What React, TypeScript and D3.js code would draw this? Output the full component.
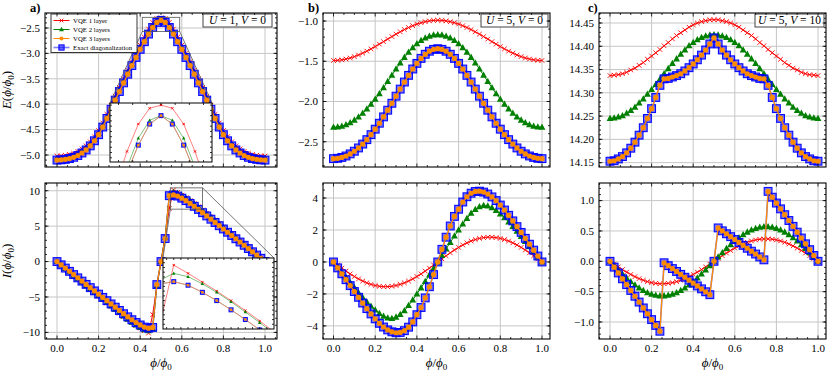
import React from 'react';
import * as d3 from 'd3';

// flux grid (51 points)
const PHI = [0,0.02,0.04,0.06,0.08,0.1,0.12,0.14,0.16,0.18,0.2,0.22,0.24,0.26,0.28,0.3,0.32,0.34,0.36,0.38,0.4,0.42,0.44,0.46,0.48,0.5,0.52,0.54,0.56,0.58,0.6,0.62,0.64,0.66,0.68,0.7,0.72,0.74,0.76,0.78,0.8,0.82,0.84,0.86,0.88,0.9,0.92,0.94,0.96,0.98,1];

// a) U=1, V=0
const aE_vqe1 = [-5.02,-5.015,-5.005,-4.99,-4.965,-4.93,-4.88,-4.82,-4.74,-4.64,-4.52,-4.37,-4.2,-4.02,-3.84,-3.67,-3.5,-3.33,-3.16,-3,-2.84,-2.68,-2.52,-2.39,-2.315,-2.3,-2.315,-2.39,-2.52,-2.68,-2.84,-3,-3.16,-3.33,-3.5,-3.67,-3.84,-4.02,-4.2,-4.37,-4.52,-4.64,-4.74,-4.82,-4.88,-4.93,-4.965,-4.99,-5.005,-5.015,-5.02];
const aE_vqe2 = [-5.075,-5.07,-5.06,-5.045,-5.02,-4.985,-4.935,-4.875,-4.795,-4.695,-4.575,-4.425,-4.255,-4.075,-3.895,-3.725,-3.555,-3.385,-3.215,-3.055,-2.895,-2.745,-2.595,-2.457,-2.372,-2.35,-2.372,-2.457,-2.595,-2.745,-2.895,-3.055,-3.215,-3.385,-3.555,-3.725,-3.895,-4.075,-4.255,-4.425,-4.575,-4.695,-4.795,-4.875,-4.935,-4.985,-5.02,-5.045,-5.06,-5.07,-5.075];
const aE_exact = [-5.1,-5.095,-5.085,-5.07,-5.045,-5.01,-4.96,-4.9,-4.82,-4.72,-4.6,-4.45,-4.28,-4.1,-3.92,-3.75,-3.58,-3.41,-3.24,-3.08,-2.92,-2.77,-2.62,-2.49,-2.39,-2.35,-2.39,-2.49,-2.62,-2.77,-2.92,-3.08,-3.24,-3.41,-3.58,-3.75,-3.92,-4.1,-4.28,-4.45,-4.6,-4.72,-4.82,-4.9,-4.96,-5.01,-5.045,-5.07,-5.085,-5.095,-5.1];
const aE_vqe3 = aE_exact;
const aI_vqe1 = [0,-0.48,-0.96,-1.45,-1.93,-2.42,-2.9,-3.39,-3.88,-4.37,-4.86,-5.35,-5.84,-6.32,-6.8,-7.28,-7.74,-8.18,-8.6,-9,-9.38,-9.75,-10.1,-7.5,-3.5,0,3.5,7.5,10.1,9.75,9.38,9,8.6,8.18,7.74,7.28,6.8,6.32,5.84,5.35,4.86,4.37,3.88,3.39,2.9,2.42,1.93,1.45,0.96,0.48,0];
const aI_vqe2 = [0,-0.48,-0.96,-1.44,-1.92,-2.4,-2.88,-3.36,-3.84,-4.32,-4.8,-5.28,-5.76,-6.24,-6.72,-7.2,-7.67,-8.12,-8.55,-8.95,-9.31,-9.61,-9.75,-9.45,-3.4,0,3.4,9.45,9.75,9.61,9.31,8.95,8.55,8.12,7.67,7.2,6.72,6.24,5.76,5.28,4.8,4.32,3.84,3.36,2.88,2.4,1.92,1.44,0.96,0.48,0];
const aI_exact = [0,-0.46,-0.92,-1.38,-1.84,-2.3,-2.76,-3.22,-3.68,-4.14,-4.6,-5.06,-5.52,-5.98,-6.44,-6.9,-7.36,-7.8,-8.21,-8.6,-8.95,-9.25,-9.4,-9.3,-3.25,0,3.25,9.3,9.4,9.25,8.95,8.6,8.21,7.8,7.36,6.9,6.44,5.98,5.52,5.06,4.6,4.14,3.68,3.22,2.76,2.3,1.84,1.38,0.92,0.46,0];
const aI_vqe3 = aI_exact;

// b) U=5, V=0
const bE_vqe1 = [-1.49,-1.488,-1.482,-1.472,-1.459,-1.442,-1.422,-1.399,-1.374,-1.346,-1.317,-1.287,-1.256,-1.224,-1.193,-1.163,-1.134,-1.106,-1.081,-1.058,-1.038,-1.021,-1.008,-0.998,-0.992,-0.99,-0.992,-0.998,-1.008,-1.021,-1.038,-1.058,-1.081,-1.106,-1.134,-1.163,-1.193,-1.224,-1.256,-1.287,-1.317,-1.346,-1.374,-1.399,-1.422,-1.442,-1.459,-1.472,-1.482,-1.488,-1.49];
const bE_vqe2 = [-2.32,-2.316,-2.306,-2.288,-2.263,-2.231,-2.192,-2.146,-2.094,-2.035,-1.971,-1.902,-1.828,-1.752,-1.674,-1.596,-1.522,-1.451,-1.387,-1.331,-1.282,-1.242,-1.21,-1.188,-1.174,-1.17,-1.174,-1.188,-1.21,-1.242,-1.282,-1.331,-1.387,-1.451,-1.522,-1.596,-1.674,-1.752,-1.828,-1.902,-1.971,-2.035,-2.094,-2.146,-2.192,-2.231,-2.263,-2.288,-2.306,-2.316,-2.32];
const bE_exact = [-2.71,-2.706,-2.695,-2.677,-2.651,-2.618,-2.577,-2.529,-2.474,-2.412,-2.344,-2.27,-2.191,-2.108,-2.022,-1.934,-1.846,-1.758,-1.675,-1.596,-1.526,-1.464,-1.413,-1.375,-1.352,-1.344,-1.352,-1.375,-1.413,-1.464,-1.526,-1.596,-1.675,-1.758,-1.846,-1.934,-2.022,-2.108,-2.191,-2.27,-2.344,-2.412,-2.474,-2.529,-2.577,-2.618,-2.651,-2.677,-2.695,-2.706,-2.71];
const bE_vqe3 = bE_exact;
const bI_vqe1 = [0,-0.194,-0.385,-0.571,-0.747,-0.911,-1.061,-1.194,-1.309,-1.402,-1.474,-1.523,-1.547,-1.547,-1.523,-1.474,-1.402,-1.309,-1.194,-1.061,-0.911,-0.747,-0.571,-0.385,-0.194,0,0.194,0.385,0.571,0.747,0.911,1.061,1.194,1.309,1.402,1.474,1.523,1.547,1.547,1.523,1.474,1.402,1.309,1.194,1.061,0.911,0.747,0.571,0.385,0.194,0];
const bI_vqe2 = [0,-0.32,-0.64,-0.96,-1.28,-1.6,-1.92,-2.22,-2.5,-2.77,-3.01,-3.22,-3.39,-3.5,-3.54,-3.45,-3.28,-3.05,-2.72,-2.38,-2,-1.62,-1.22,-0.82,-0.41,0,0.41,0.82,1.22,1.62,2,2.38,2.72,3.05,3.28,3.45,3.54,3.5,3.39,3.22,3.01,2.77,2.5,2.22,1.92,1.6,1.28,0.96,0.64,0.32,0];
const bI_exact = [0,-0.37,-0.74,-1.11,-1.48,-1.85,-2.21,-2.57,-2.92,-3.25,-3.56,-3.84,-4.07,-4.25,-4.37,-4.43,-4.41,-4.3,-4.08,-3.75,-3.3,-2.85,-2.25,-1.55,-0.79,0,0.79,1.55,2.25,2.85,3.3,3.75,4.08,4.3,4.41,4.43,4.37,4.25,4.07,3.84,3.56,3.25,2.92,2.57,2.21,1.85,1.48,1.11,0.74,0.37,0];
const bI_vqe3 = bI_exact;

// c) U=5, V=10
const cE_vqe1 = [14.337,14.338,14.339,14.341,14.344,14.349,14.353,14.359,14.365,14.372,14.379,14.386,14.393,14.401,14.408,14.416,14.423,14.429,14.435,14.441,14.446,14.45,14.453,14.455,14.457,14.457,14.457,14.455,14.453,14.45,14.446,14.441,14.435,14.429,14.423,14.416,14.408,14.401,14.393,14.386,14.379,14.372,14.365,14.359,14.353,14.349,14.344,14.341,14.339,14.338,14.337];
const cE_vqe2 = [14.245,14.246,14.248,14.251,14.256,14.262,14.269,14.278,14.287,14.297,14.307,14.318,14.329,14.341,14.352,14.363,14.373,14.383,14.392,14.401,14.408,14.414,14.419,14.422,14.424,14.425,14.424,14.422,14.419,14.414,14.408,14.401,14.392,14.383,14.373,14.363,14.352,14.341,14.329,14.318,14.307,14.297,14.287,14.278,14.269,14.262,14.256,14.251,14.248,14.246,14.245];
const cE_exact = [14.153,14.154,14.158,14.163,14.171,14.181,14.194,14.209,14.225,14.245,14.266,14.29,14.316,14.33,14.331,14.334,14.337,14.341,14.347,14.354,14.362,14.371,14.381,14.392,14.405,14.418,14.405,14.392,14.381,14.371,14.362,14.354,14.347,14.341,14.337,14.334,14.331,14.33,14.316,14.29,14.266,14.245,14.225,14.209,14.194,14.181,14.171,14.163,14.158,14.154,14.153];
const cE_vqe3 = cE_exact;
const cI_vqe1 = [0,-0.046,-0.092,-0.136,-0.178,-0.217,-0.253,-0.285,-0.312,-0.335,-0.352,-0.363,-0.369,-0.369,-0.363,-0.352,-0.335,-0.312,-0.285,-0.253,-0.217,-0.178,-0.136,-0.092,-0.046,0,0.046,0.092,0.136,0.178,0.217,0.253,0.285,0.312,0.335,0.352,0.363,0.369,0.369,0.363,0.352,0.335,0.312,0.285,0.253,0.217,0.178,0.136,0.092,0.046,0];
const cI_vqe2 = [0,-0.071,-0.142,-0.21,-0.275,-0.335,-0.39,-0.439,-0.481,-0.516,-0.542,-0.56,-0.569,-0.569,-0.56,-0.542,-0.516,-0.481,-0.439,-0.39,-0.335,-0.275,-0.21,-0.142,-0.071,0,0.071,0.142,0.21,0.275,0.335,0.39,0.439,0.481,0.516,0.542,0.56,0.569,0.569,0.56,0.542,0.516,0.481,0.439,0.39,0.335,0.275,0.21,0.142,0.071,0];
const cI_exact = [0,-0.096,-0.192,-0.288,-0.384,-0.48,-0.576,-0.672,-0.768,-0.864,-0.96,-1.056,-1.152,-0.024,-0.072,-0.12,-0.167,-0.215,-0.263,-0.311,-0.359,-0.406,-0.454,-0.502,-0.55,0,0.55,0.502,0.454,0.406,0.359,0.311,0.263,0.215,0.167,0.12,0.072,0.024,1.152,1.056,0.96,0.864,0.768,0.672,0.576,0.48,0.384,0.288,0.192,0.096,0];
const cI_vqe3 = cI_exact;

// ticks
const X_TICKS = [0, 0.2, 0.4, 0.6, 0.8, 1.0];
const aE_TICKS = [-5.0, -4.5, -4.0, -3.5, -3.0, -2.5];
const aI_TICKS = [-10, -5, 0, 5, 10];
const bE_TICKS = [-2.5, -2.0, -1.5, -1.0];
const bI_TICKS = [-4, -2, 0, 2, 4];
const cE_TICKS = [14.15, 14.2, 14.25, 14.3, 14.35, 14.4, 14.45];
const cI_TICKS = [-1.0, -0.5, 0.0, 0.5, 1.0];

const LEGEND = ['VQE 1 layer', 'VQE 2 layers', 'VQE 3 layers', 'Exact diagonalization'];

const FONT = '"Liberation Serif", "DejaVu Serif", serif';

const STYLES = {
  vqe1: { color: '#ff0000', marker: 'x', r: 2.3, lw: 1 },
  vqe2: { color: '#008000', marker: '^', r: 3.4, lw: 1 },
  exact: { color: '#0000ff', marker: 's', r: 3.9, lw: 1.6 },
  vqe3: { color: '#ff8c00', marker: 'o', r: 2.6, lw: 1.3 },
};

function Marker({ kind, x, y, r, color }) {
  if (kind === 'o') return <circle cx={x} cy={y} r={r} fill={color} />;
  if (kind === 'x')
    return <path d={`M${x - r},${y - r}L${x + r},${y + r}M${x - r},${y + r}L${x + r},${y - r}`} stroke={color} strokeWidth={0.9} fill="none" />;
  if (kind === '^')
    return <path d={`M${x},${y - r * 1.1}L${x + r},${y + r * 0.75}L${x - r},${y + r * 0.75}Z`} fill={color} />;
  return (
    <rect x={x - r} y={y - r} width={2 * r} height={2 * r} fill={color} fillOpacity={0.55}
      stroke={color} strokeOpacity={0.95} strokeWidth={1.1} />
  );
}

function Series({ ys, sx, sy, st, k = 1 }) {
  const line = d3.line<number>().x((_, i) => sx(PHI[i])).y((d) => sy(d));
  const isExact = st.marker === 's';
  return (
    <g>
      <path d={line(ys) || ''} fill="none" stroke={st.color} strokeWidth={st.lw * k}
        strokeOpacity={isExact ? 0.5 : 1} />
      {ys.map((v, i) => (
        <Marker key={i} kind={st.marker} x={sx(PHI[i])} y={sy(v)} r={st.r * k} color={st.color} />
      ))}
    </g>
  );
}

function Curves({ data, sx, sy, k = 1 }) {
  return (
    <g>
      <Series ys={data[0]} sx={sx} sy={sy} st={STYLES.vqe1} k={k} />
      <Series ys={data[1]} sx={sx} sy={sy} st={STYLES.vqe2} k={k} />
      <Series ys={data[3]} sx={sx} sy={sy} st={STYLES.exact} k={k} />
      <Series ys={data[2]} sx={sx} sy={sy} st={STYLES.vqe3} k={k} />
    </g>
  );
}

function stepRange(lo, hi, step) {
  const out = [];
  const start = Math.ceil(lo / step - 1e-9);
  for (let i = start; i * step <= hi + 1e-9; i++) out.push(+(i * step).toFixed(6));
  return out;
}

function Ticks({ L, R, T, B, sx, sy, xMaj, xMin, yMaj, yMin, maj = 3.5, mnr = 2 }) {
  const segs = [];
  xMaj.forEach((v) => { const x = sx(v); segs.push([x, B, x, B - maj], [x, T, x, T + maj]); });
  xMin.forEach((v) => { const x = sx(v); if (x > L && x < R) segs.push([x, B, x, B - mnr], [x, T, x, T + mnr]); });
  yMaj.forEach((v) => { const y = sy(v); segs.push([L, y, L + maj, y], [R, y, R - maj, y]); });
  yMin.forEach((v) => { const y = sy(v); if (y > T && y < B) segs.push([L, y, L + mnr, y], [R, y, R - mnr, y]); });
  return (
    <g stroke="#000" strokeWidth={0.8}>
      {segs.map((s, i) => <line key={i} x1={s[0]} y1={s[1]} x2={s[2]} y2={s[3]} />)}
    </g>
  );
}

function Panel({ id, L, R, T, B, x0, x1, yDom, yTicks, yMinorStep, yFmt, xLabels, data, children = null }) {
  const sx = d3.scaleLinear().domain([0, 1]).range([x0, x1]);
  const sy = d3.scaleLinear().domain(yDom).range([B, T]);
  const xMin = stepRange(-0.1, 1.1, 0.05).filter((v) => !X_TICKS.some((t) => Math.abs(t - v) < 1e-6));
  const yMin = stepRange(yDom[0], yDom[1], yMinorStep);
  const fmt = d3.format(yFmt);
  return (
    <g>
      <defs>
        <clipPath id={`clip-${id}`}><rect x={L} y={T} width={R - L} height={B - T} /></clipPath>
      </defs>
      <rect x={L} y={T} width={R - L} height={B - T} fill="#fff" />
      <g stroke="#c6c6c6" strokeWidth={1}>
        {X_TICKS.map((v) => <line key={v} x1={sx(v)} x2={sx(v)} y1={T} y2={B} />)}
        {yTicks.map((v) => <line key={v} x1={L} x2={R} y1={sy(v)} y2={sy(v)} />)}
      </g>
      <g clipPath={`url(#clip-${id})`}>
        <Curves data={data} sx={sx} sy={sy} />
      </g>
      {children && children(sx, sy)}
      <Ticks L={L} R={R} T={T} B={B} sx={sx} sy={sy} xMaj={X_TICKS} xMin={xMin} yMaj={yTicks} yMin={yMin} />
      <rect x={L} y={T} width={R - L} height={B - T} fill="none" stroke="#000" strokeWidth={1.1} />
      <g fontFamily={FONT} fontSize={11} fill="#000">
        {yTicks.map((v) => (
          <text key={v} x={L - 5} y={sy(v) + 3.8} textAnchor="end">{fmt(v)}</text>
        ))}
        {xLabels && X_TICKS.map((v) => (
          <text key={v} x={sx(v)} y={B + 13} textAnchor="middle">{d3.format('.1f')(v)}</text>
        ))}
      </g>
      {xLabels && (
        <text x={(L + R) / 2} y={B + 28} textAnchor="middle" fontFamily={FONT} fontSize={13}>
          <tspan fontStyle="italic">ϕ</tspan>/<tspan fontStyle="italic">ϕ</tspan>
          <tspan fontSize={9} dy={3}>0</tspan>
        </text>
      )}
    </g>
  );
}

function Inset({ id, box, xDom, yDom, data, xStep, yStep }) {
  const [x, y, w, h] = box;
  const sx = d3.scaleLinear().domain(xDom).range([x, x + w]);
  const sy = d3.scaleLinear().domain(yDom).range([y + h, y]);
  const xs = stepRange(xDom[0], xDom[1], xStep);
  const ys = stepRange(yDom[0], yDom[1], yStep);
  return (
    <g>
      <defs>
        <clipPath id={`clip-${id}`}><rect x={x} y={y} width={w} height={h} /></clipPath>
      </defs>
      <rect x={x} y={y} width={w} height={h} fill="#fff" />
      <g clipPath={`url(#clip-${id})`}>
        <Curves data={data} sx={sx} sy={sy} k={0.5} />
      </g>
      <Ticks L={x} R={x + w} T={y} B={y + h} sx={sx} sy={sy} xMaj={[]} xMin={xs} yMaj={[]} yMin={ys} mnr={2} />
      <rect x={x} y={y} width={w} height={h} fill="none" stroke="#000" strokeWidth={1} />
    </g>
  );
}

function ParamBox({ x, y, w, u, v }) {
  return (
    <g fontFamily={FONT} fontSize={11.5}>
      <rect x={x} y={y} width={w} height={13} fill="#fff" stroke="#444" strokeWidth={1} />
      <text x={x + w / 2} y={y + 10} textAnchor="middle">
        <tspan fontStyle="italic">U</tspan> = {u}, <tspan fontStyle="italic">V</tspan> = {v}
      </text>
    </g>
  );
}

function Legend() {
  const kinds = [STYLES.vqe1, STYLES.vqe2, STYLES.vqe3, STYLES.exact];
  const sizes = [1.8, 2.4, 2, 2.6];
  return (
    <g>
      <rect x={51} y={14} width={86} height={38.5} fill="#fff" stroke="#222" strokeWidth={0.9} />
      {LEGEND.map((label, i) => {
        const y = 20.5 + i * 9;
        const st = kinds[i];
        return (
          <g key={label}>
            <line x1={53.5} x2={69.5} y1={y} y2={y} stroke={st.color} strokeWidth={st.marker === 's' ? 1.6 : 1}
              strokeOpacity={st.marker === 's' ? 0.5 : 1} />
            <Marker kind={st.marker} x={61.5} y={y} r={sizes[i]} color={st.color} />
            <text x={73} y={y + 2.3} fontFamily={FONT} fontSize={6.8}>{label}</text>
          </g>
        );
      })}
    </g>
  );
}

function AxisLabel({ x, y, sym }) {
  return (
    <text transform={`translate(${x},${y}) rotate(-90)`} textAnchor="middle" fontFamily={FONT} fontSize={13}>
      <tspan fontStyle="italic">{sym}</tspan>(<tspan fontStyle="italic">ϕ</tspan>/<tspan fontStyle="italic">ϕ</tspan>
      <tspan fontSize={9} dy={3}>0</tspan><tspan dy={-3}>)</tspan>
    </text>
  );
}

export default function App() {
  const top = { T: 13, B: 167 };
  const bot = { T: 183, B: 339 };
  const A = { L: 45, R: 277, x0: 57, x1: 265 };
  const Bp = { L: 323, R: 550, x0: 333.5, x1: 542 };
  const C = { L: 599, R: 826, x0: 610, x1: 818 };

  const insetTop = { box: [110, 103, 102, 59], xDom: [0.41, 0.59], yDom: [-2.57, -2.29] };
  const insetBot = { box: [163, 258, 111, 71], xDom: [0.545, 0.7], yDom: [7.4, 10.4] };

  return (
    <svg width={830} height={371} style={{ position: 'absolute', left: 0, top: 0, background: '#fff' }}>
      <Panel id="aE" {...A} {...top} yDom={[-5.236, -2.205]} yTicks={aE_TICKS} yMinorStep={0.1} yFmt=".1f"
        xLabels={false} data={[aE_vqe1, aE_vqe2, aE_vqe3, aE_exact]}>
        {(sx, sy) => {
          const [bx, by, bw] = insetTop.box;
          const rx0 = sx(insetTop.xDom[0]), rx1 = sx(insetTop.xDom[1]);
          const ry0 = sy(insetTop.yDom[1]), ry1 = sy(insetTop.yDom[0]);
          return (
            <g>
              <rect x={rx0} y={ry0} width={rx1 - rx0} height={ry1 - ry0} fill="none" stroke="#555" strokeWidth={0.8} />
              <line x1={rx0} y1={ry1} x2={bx} y2={by} stroke="#555" strokeWidth={0.8} />
              <line x1={rx1} y1={ry1} x2={bx + bw} y2={by} stroke="#555" strokeWidth={0.8} />
              <Inset id="insA" {...insetTop} data={[aE_vqe1, aE_vqe2, aE_vqe3, aE_exact]} xStep={0.025} yStep={0.025} />
              <Legend />
              <ParamBox x={203} y={14} w={69} u={1} v={0} />
            </g>
          );
        }}
      </Panel>
      <Panel id="aI" {...A} {...bot} yDom={[-10.93, 11.09]} yTicks={aI_TICKS} yMinorStep={1} yFmt="d"
        xLabels={true} data={[aI_vqe1, aI_vqe2, aI_vqe3, aI_exact]}>
        {(sx, sy) => {
          const [bx, by, bw] = insetBot.box;
          const rx0 = sx(insetBot.xDom[0]), rx1 = sx(insetBot.xDom[1]);
          const ry0 = sy(insetBot.yDom[1]), ry1 = sy(insetBot.yDom[0]);
          return (
            <g>
              <rect x={rx0} y={ry0} width={rx1 - rx0} height={ry1 - ry0} fill="none" stroke="#555" strokeWidth={0.8} />
              <line x1={rx0} y1={ry1} x2={bx} y2={by} stroke="#555" strokeWidth={0.8} />
              <line x1={rx1} y1={ry0} x2={bx + bw} y2={by} stroke="#555" strokeWidth={0.8} />
              <Inset id="insB" {...insetBot} data={[aI_vqe1, aI_vqe2, aI_vqe3, aI_exact]} xStep={0.01} yStep={0.2} />
            </g>
          );
        }}
      </Panel>

      <Panel id="bE" {...Bp} {...top} yDom={[-2.814, -0.9]} yTicks={bE_TICKS} yMinorStep={0.1} yFmt=".1f"
        xLabels={false} data={[bE_vqe1, bE_vqe2, bE_vqe3, bE_exact]}>
        {() => <ParamBox x={481} y={14} w={67} u={5} v={0} />}
      </Panel>
      <Panel id="bI" {...Bp} {...bot} yDom={[-4.82, 4.94]} yTicks={bI_TICKS} yMinorStep={0.5} yFmt="d"
        xLabels={true} data={[bI_vqe1, bI_vqe2, bI_vqe3, bI_exact]} />

      <Panel id="cE" {...C} {...top} yDom={[14.1406, 14.4715]} yTicks={cE_TICKS} yMinorStep={0.01} yFmt=".2f"
        xLabels={false} data={[cE_vqe1, cE_vqe2, cE_vqe3, cE_exact]}>
        {() => <ParamBox x={755} y={14} w={69} u={5} v={10} />}
      </Panel>
      <Panel id="cI" {...C} {...bot} yDom={[-1.28, 1.29]} yTicks={cI_TICKS} yMinorStep={0.1} yFmt=".1f"
        xLabels={true} data={[cI_vqe1, cI_vqe2, cI_vqe3, cI_exact]} />

      <AxisLabel x={11} y={90} sym="E" />
      <AxisLabel x={11} y={261} sym="I" />

      <g fontFamily={FONT} fontSize={12.5} fontWeight="bold">
        <text x={30} y={11.5}>a)</text>
        <text x={308} y={11.5}>b)</text>
        <text x={588} y={11.5}>c)</text>
      </g>
    </svg>
  );
}
